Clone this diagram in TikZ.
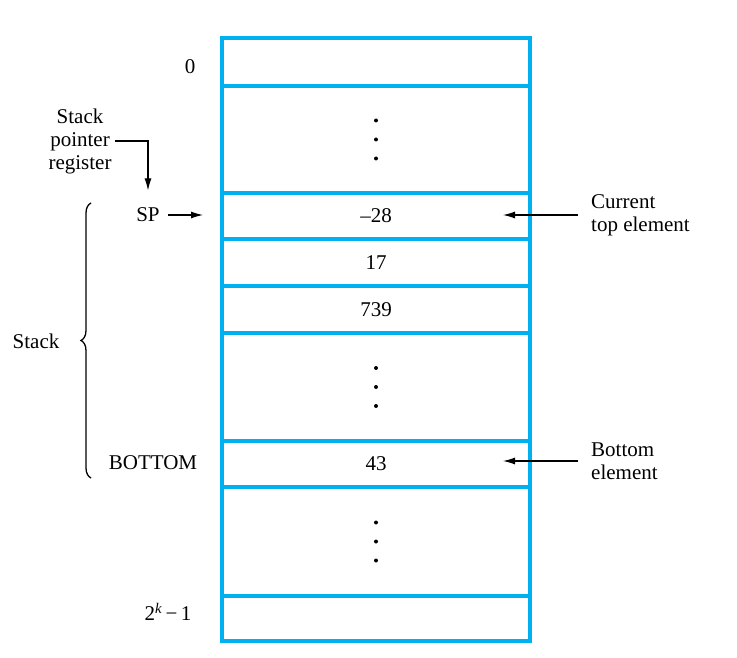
\documentclass[tikz,border=0pt]{standalone}
\usepackage{fontspec}
\setmainfont{Liberation Serif}
\usetikzlibrary{arrows.meta, positioning, decorations.pathreplacing}
\definecolor{cellblue}{HTML}{00B0F0}

\begin{document}
\begin{tikzpicture}[
    x=1pt, y=-1pt,
    every node/.style={font=\fontsize{21}{23}\selectfont},
    cell/.style={rectangle, draw=cellblue, line width=4.5pt, minimum width=308pt,
                 inner sep=0pt, outer sep=0pt},
    lbl/.style={align=left, inner sep=2pt},
    arr/.style={-{Latex[length=12pt, width=7pt]}, line width=1.1pt},
    dot/.style={circle, fill, inner sep=0pt, minimum size=4pt}
]
    \useasboundingbox (0,0) rectangle (737,658);
    % memory words
    \node[cell, minimum height=48pt] (addr0) at (376,62) {};
    \node[cell, minimum height=107pt, below=0pt of addr0] (free1) {};
    \node[cell, minimum height=46pt, below=0pt of free1] (topw) {–28};
    \node[cell, minimum height=47pt, below=0pt of topw] (w17) {17};
    \node[cell, minimum height=47pt, below=0pt of w17] (w739) {739};
    \node[cell, minimum height=108pt, below=0pt of w739] (stackgap) {};
    \node[cell, minimum height=46pt, below=0pt of stackgap] (botw) {43};
    \node[cell, minimum height=109pt, below=0pt of botw] (free2) {};
    \node[cell, minimum height=45pt, below=0pt of free2] (addrk) {};
    \foreach \c in {free1, stackgap, free2}
        \foreach \d in {-19, 0, 19}
            \node[dot] at ([yshift=\d pt]\c.center) {};

    % addresses and labels
    \node (lzero) at (190,67) {0};
    \node (sp) at (148,215) {SP};
    \node (lbot) at (153,463) {BOTTOM};
    \node (lk) at (168,612) {2\textsuperscript{\itshape k}\,−\,1};
    \node[align=center] (spreg) at (80,141) {Stack\\pointer\\register};
    \node (stk) at (36,341) {Stack};
    \node[lbl, anchor=west] (cur) at (589,215) {Current\\top element};
    \node[lbl, anchor=west] (botel) at (589,461) {Bottom\\element};

    % pointers
    \draw[arr, shorten >=14pt] (spreg.east) -| (sp.north);
    \draw[arr, shorten <=5pt, shorten >=19pt] (sp.east) -- (sp.east -| topw.west);
    \draw[arr] ([xshift=-11pt]cur.west) -- ([xshift=-27pt]cur.west -| topw.east);
    \draw[arr] ([xshift=-11pt]botel.west) -- ([xshift=-27pt]botel.west -| botw.east);
    \draw[line width=1.3pt, decorate, decoration={brace, amplitude=10pt}] (91,478) -- (91,203);
\end{tikzpicture}
\end{document}
